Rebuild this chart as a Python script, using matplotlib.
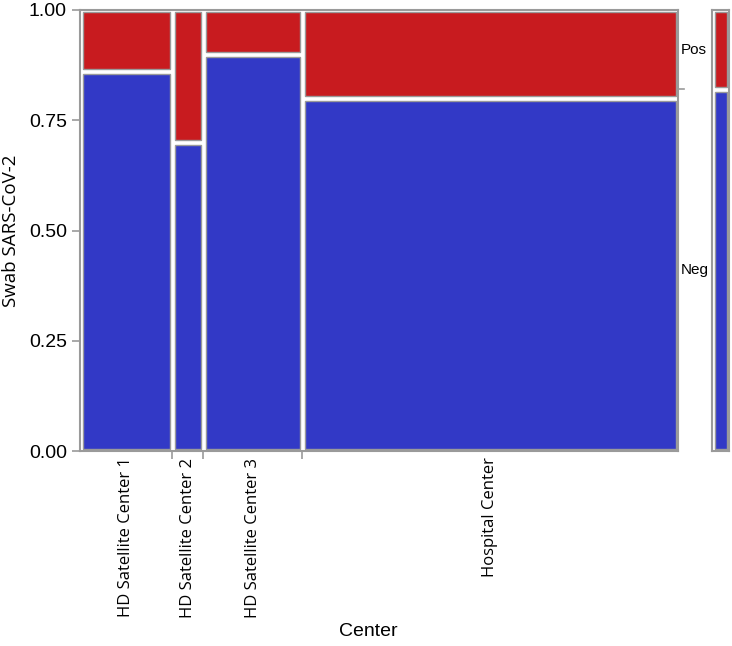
import matplotlib.pyplot as plt
from matplotlib.patches import Rectangle
import matplotlib.transforms as mtransforms

# ---------------------------------------------------------------------------
# Data
# ---------------------------------------------------------------------------
centers = ["HD Satellite Center 1", "HD Satellite Center 2",
           "HD Satellite Center 3", "Hospital Center"]
center_share = [0.154, 0.052, 0.166, 0.628]   # column widths
neg_share = [0.86, 0.70, 0.90, 0.80]          # fraction Neg within center
overall_neg = 0.82                            # marginal bar
levels = ["Neg", "Pos"]

COLORS = {"Neg": "#3239c6", "Pos": "#c81b1f"}
EDGE = "#9a9a9a"

plt.rcParams.update({
    "font.family": ["Liberation Sans", "DejaVu Sans"],
})

fig = plt.figure(figsize=(7.32, 6.46), dpi=100)
W, H = 732, 646
axm = fig.add_axes([712 / W, 1 - 451 / H, 17 / W, 441 / H])
ax = fig.add_axes([80 / W, 1 - 451 / H, 598 / W, 441 / H])
ax.set_facecolor("none")

# inset in data units (~2.5 px)
dx = 2.5 / 598
dy = 2.5 / 441


def draw_cell(a, x0, x1, y0, y1, color, dxi, dyi):
    a.add_patch(Rectangle((x0 + dxi, y0 + dyi), (x1 - x0) - 2 * dxi,
                          (y1 - y0) - 2 * dyi, facecolor=color,
                          edgecolor=EDGE, linewidth=1.0))


left = 0.0
bounds = []
mids = []
for share, neg in zip(center_share, neg_share):
    right = left + share
    draw_cell(ax, left, right, 0, neg, COLORS["Neg"], dx, dy)
    draw_cell(ax, left, right, neg, 1, COLORS["Pos"], dx, dy)
    mids.append((left + right) / 2)
    bounds.append(right)
    left = right

ax.set_xlim(0, sum(center_share))
ax.set_ylim(0, 1)
for s in ax.spines.values():
    s.set_color(EDGE)
    s.set_linewidth(1.5)

ax.set_yticks([0, 0.25, 0.5, 0.75, 1.0])
ax.set_yticklabels(["0.00", "0.25", "0.50", "0.75", "1.00"])
ax.tick_params(axis="y", labelsize=14, color=EDGE, length=6, width=1.2)
ax.set_xticks(bounds[:-1])
ax.set_xticklabels([])
ax.tick_params(axis="x", color=EDGE, length=6, width=1.2)
for m, name in zip(mids, centers):
    ax.text(m, -0.015, name, transform=ax.get_xaxis_transform(),
            rotation=90, ha="center", va="top", fontsize=12,
            family=["Open Sans", "DejaVu Sans"])

ax.set_ylabel("Swab SARS-CoV-2", fontsize=13.5, family=["Open Sans", "DejaVu Sans"],
              labelpad=6)
fig.text(368 / W, 1 - 631 / H, "Center", ha="center", va="center", fontsize=14)

# right-side level tick + labels
tr = mtransforms.blended_transform_factory(ax.transAxes, ax.transData)
ax.plot([1.0, 1.01], [overall_neg, overall_neg], color=EDGE, lw=1.2,
        transform=tr, clip_on=False)
ax.text(1.005, (1 + overall_neg) / 2, "Pos", transform=tr, ha="left",
        va="center", fontsize=11)
ax.text(1.005, overall_neg / 2, "Neg", transform=tr, ha="left",
        va="center", fontsize=11)

# marginal bar
dxm = 2.5 / 17
draw_cell(axm, 0, 1, 0, overall_neg, COLORS["Neg"], dxm, dy)
draw_cell(axm, 0, 1, overall_neg, 1, COLORS["Pos"], dxm, dy)
axm.set_xlim(0, 1)
axm.set_ylim(0, 1)
axm.set_xticks([])
axm.set_yticks([])
for s in axm.spines.values():
    s.set_color(EDGE)
    s.set_linewidth(1.5)

fig.savefig("out.png", dpi=100)
